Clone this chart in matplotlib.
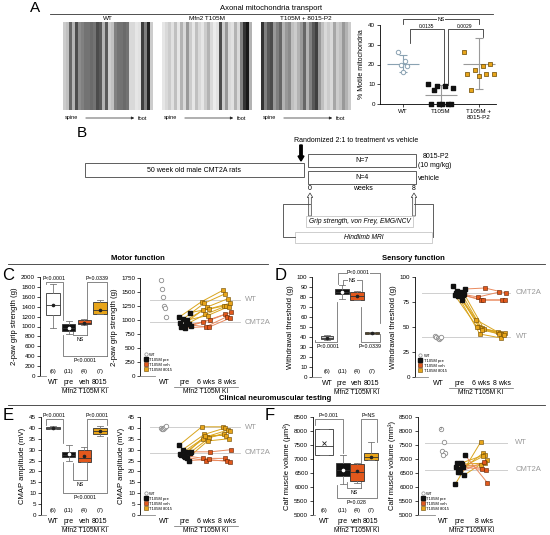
import matplotlib
matplotlib.use("Agg")
import matplotlib.pyplot as plt
import matplotlib.patches as mpatches
from matplotlib.lines import Line2D
import numpy as np

plt.rcParams['font.family'] = ['Liberation Sans', 'DejaVu Sans']
plt.rcParams['axes.linewidth'] = 0.6

W, H = 550, 535
BLACK = '#111111'
VEH = '#e2581c'
DRUG = '#e8a51a'
VEH_LINE = '#ea8a5e'
DRUG_LINE = '#d9a51e'
GREY = '#666666'

# ---------------- A: kymograph stripe intensities (0 black .. 1 white)
kymo_wt = [0.8, 0.75, 0.4, 0.7, 0.3, 0.55, 0.5, 0.45, 0.45, 0.42, 0.45, 0.3, 0.35, 0.7, 0.35,
           0.8, 0.75, 0.5, 0.45, 0.45, 0.42, 0.45, 0.85, 0.85, 0.9, 0.88, 0.25, 0.5, 0.15, 0.8]
kymo_mfn2 = [0.9, 0.85, 0.8, 0.88, 0.75, 0.9, 0.7, 0.85, 0.6, 0.8, 0.9, 0.75, 0.85, 0.9, 0.8,
             0.7, 0.85, 0.92, 0.88, 0.3, 0.8, 0.6, 0.85, 0.88, 0.7, 0.85, 0.5, 0.2, 0.1, 0.7]
kymo_drug = [0.2, 0.5, 0.35, 0.3, 0.6, 0.5, 0.4, 0.7, 0.6, 0.55, 0.75, 0.8, 0.7, 0.6, 0.4,
             0.7, 0.5, 0.35, 0.25, 0.6, 0.75, 0.85, 0.8, 0.85, 0.65, 0.8, 0.75, 0.6, 0.7, 0.8]
kymo_titles = ['WT', 'Mfn2 T105M', 'T105M + 8015-P2']

# A: % motile mitochondria
motile_groups = ['WT', 'T105M', 'T105M +\n8015-P2']
motile_wt = [26.5, 22, 20, 19, 16]
motile_t105m = [10, 9, 9, 8, 7, 0, 0, 0, 0, 0]
motile_drug = [26.5, 20.5, 19, 17, 15, 15, 15, 14, 7]
motile_mean = [20.5, 4.7, 20.5]
motile_err = [4.4, 5.0, 12.7]

# ---------------- box plots (WT, pre, veh, 8015)
box_labels = ['WT', 'pre', 'veh', '8015']
box_counts = ['(6)', '(11)', '(4)', '(7)']

grip_lo = [970, 840, 1040, 1250]
grip_q1 = [1230, 900, 1045, 1250]
grip_med = [1440, 960, 1080, 1340]
grip_q3 = [1670, 1050, 1130, 1500]
grip_hi = [1860, 1120, 1145, 1530]
grip_mean = [1440, 960, 1080, 1340]

vf_lo = [37, 78, 77, 43]
vf_q1 = [38, 83, 77.5, 43.5]
vf_med = [39.5, 85, 81, 44]
vf_q3 = [41, 88, 85, 45]
vf_hi = [42, 92, 86, 45.5]
vf_mean = [39.5, 85, 81, 44]

cmap_lo = [39.3, 25, 24.5, 36.5]
cmap_q1 = [39.5, 26.5, 24.5, 37]
cmap_med = [40, 27.5, 26, 38.5]
cmap_q3 = [40.5, 29, 30, 40]
cmap_hi = [40.8, 32, 31, 41]
cmap_mean = [40, 28, 27, 38.8]

mri_lo = [7150, 6100, 6150, 6950]
mri_q1 = [7150, 6380, 6200, 6950]
mri_med = [7450, 6600, 6550, 7080]
mri_q3 = [8080, 6850, 6820, 7200]
mri_hi = [8080, 7150, 6860, 7600]
mri_mean = [7560, 6620, 6560, 7080]

# ---------------- time course panels
tc_labels = ['WT', 'pre', '6 wks', '8 wks']

grip_wt = [1720, 1560, 1410, 1250, 1210, 1060]
grip_drug_pre = [1050, 1010, 960, 1130, 940, 900, 1000]
grip_drug_6 = [1330, 1300, 1230, 1200, 1170, 1100, 1080]
grip_drug_8 = [1530, 1470, 1380, 1300, 1250, 1250, 1240]
grip_veh_pre = [900, 880, 860, 920]
grip_veh_6 = [1000, 970, 880, 870]
grip_veh_8 = [1140, 1100, 1060, 1030]
grip_ref = [1360, 960]

vf_wt = [41, 40, 39, 38.5, 39.5, 40]
vf_drug_pre = [91, 86, 85, 83, 82, 81, 77]
vf_drug_6 = [57, 50, 49, 48, 50, 43, 47]
vf_drug_8 = [45, 44, 43, 44, 43, 39, 42]
vf_veh_pre = [88, 84, 83, 82]
vf_veh_6 = [89, 80, 77, 77]
vf_veh_8 = [84, 85, 77, 77]
vf_ref = [40, 84.5]

cmap_wt = [40, 39.5, 39.3, 40, 40.5, 41]
cmap_drug_pre = [32, 30, 29, 28.5, 28, 27, 26]
cmap_drug_6 = [40.5, 37, 36, 35.5, 35, 36.5, 34]
cmap_drug_8 = [40.5, 40, 39, 38.5, 37, 36.5, 35]
cmap_veh_pre = [29, 27.5, 26.5, 25]
cmap_veh_6 = [29, 26, 25, 25.5]
cmap_veh_8 = [30, 26, 25, 24.5]
cmap_ref = [40.2, 28.5]

mri_wt = [8080, 7620, 7300, 7200, 7150]
mri_drug_pre = [6100, 6520, 6850, 6420, 6700, 6650, 6820]
mri_drug_8 = [7600, 7200, 7150, 6950, 6800, 7100, 6850]
mri_veh_pre = [7150, 6870, 6550, 6720]
mri_veh_8 = [6150, 6650, 6880, 6600]
mri_ref = [7580, 6620]

fig = plt.figure(figsize=(5.5, 5.35), dpi=100)
fig.patch.set_facecolor('white')


def add_ax(x0, y0, x1, y1):
    # pixel box, origin top-left
    a = fig.add_axes([x0 / W, 1 - y1 / H, (x1 - x0) / W, (y1 - y0) / H])
    a.set_facecolor('none')
    return a


def spread(n, w):
    if n == 1:
        return np.zeros(1)
    offs = np.linspace(-w, w, n)
    step = 3 if n % 3 else 7
    return offs[(np.arange(n) * step) % n]


def bracket(ax, x1, x2, y, y1, y2, color=GREY, lw=0.55):
    ax.plot([x1, x1, x2, x2], [y1, y, y, y2], color=color, lw=lw, clip_on=False, zorder=1)


def note(ax, x, y, s, fs=3.8, bg=False):
    kw = dict(ha='center', va='center', fontsize=fs, clip_on=False, zorder=5)
    if bg:
        kw['bbox'] = dict(facecolor='white', edgecolor='none', pad=0.3)
    ax.text(x, y, s, **kw)


def group_label(ax, x1, x2, ax_h):
    tr = ax.get_xaxis_transform()
    ax.plot([x1, x2], [-11 / ax_h] * 2, color=GREY, lw=0.5, transform=tr, clip_on=False)
    ax.text((x1 + x2) / 2, -15.5 / ax_h, 'Mfn2 T105M KI', transform=tr, ha='center', va='center',
            fontsize=4.8)


def box_panel(ax, lo, q1, med, q3, hi, mean, pos, widths, xlim, ylim, yticks, ylabel, ax_h):
    stats = [dict(whislo=lo[i], q1=q1[i], med=med[i], q3=q3[i], whishi=hi[i], mean=mean[i])
             for i in range(len(lo))]
    bp = ax.bxp(stats, positions=pos, widths=widths, patch_artist=True, showmeans=True,
                showfliers=False, capwidths=[w * 0.45 for w in widths],
                boxprops=dict(linewidth=0.6, edgecolor='#333333'),
                medianprops=dict(color='#333333', linewidth=0.6),
                whiskerprops=dict(color='#777777', linewidth=0.6),
                capprops=dict(color='#777777', linewidth=0.6),
                meanprops=dict(marker='o', markersize=1.6, markerfacecolor='#222222',
                               markeredgecolor='#222222'))
    for patch, fc in zip(bp['boxes'], ['white', BLACK, VEH, DRUG]):
        patch.set_facecolor(fc)
    bp['means'][1].set_markerfacecolor('white')
    bp['means'][1].set_markeredgecolor('white')
    ax.set_xlim(*xlim)
    ax.set_ylim(*ylim)
    ax.set_yticks(yticks)
    ax.set_xticks(pos, box_labels, fontsize=5)
    ax.tick_params(axis='x', length=0, pad=2.5)
    ax.tick_params(axis='y', labelsize=4.5, length=2, width=0.5, pad=1.5)
    for s in ['top', 'right']:
        ax.spines[s].set_visible(False)
    ax.spines['bottom'].set_bounds(xlim[0], pos[0] - widths[0] / 2)
    ax.spines['bottom'].set_color('#888888')
    ax.set_ylabel(ylabel, fontsize=5.5, labelpad=2)
    for p, c in zip(pos, box_counts):
        ax.text(p, 0.05, c, transform=ax.get_xaxis_transform(), ha='center', va='center',
                fontsize=4)
    group_label(ax, pos[1] - 0.5, pos[3] + 0.5, ax_h)
    return bp


def trend_panel(ax, wt, drug, veh, xs, ref, xlim, ylim, yticks, ylabel, ax_h,
                ref_span=(0.1, 0.97), ref_x=1.02):
    # drug / veh: lists of series [pre, later1, later2 ...]
    ax.set_xlim(*xlim)
    ax.set_ylim(*ylim)
    for r, lab in zip(ref, ['WT', 'CMT2A']):
        ax.axhline(r, xmin=ref_span[0], xmax=ref_span[1], color='#cfcfcf', lw=0.7, zorder=0)
        ax.text(ref_x, r, lab, transform=ax.get_yaxis_transform(), fontsize=5.5,
                color='#9a9a9a', va='center', ha='left', clip_on=False)
    n_d, n_v = len(drug[0]), len(veh[0])
    n = n_d + n_v
    offs = [spread(n, 0.28)] + [spread(n, 0.2) for _ in drug[1:]]
    for i in range(n_d):
        px = [xs[k + 1] + offs[k][i] for k in range(len(drug))]
        py = [series[i] for series in drug]
        ax.plot(px, py, color=DRUG_LINE, lw=0.7, zorder=2)
        ax.plot(px[1:], py[1:], ls='', marker='s', ms=3.2, mfc=DRUG, mec='#6a4800',
                mew=0.4, zorder=3)
    for j in range(n_v):
        i = n_d + j
        px = [xs[k + 1] + offs[k][i] for k in range(len(veh))]
        py = [series[j] for series in veh]
        ax.plot(px, py, color=VEH_LINE, lw=0.7, zorder=2)
        ax.plot(px[1:], py[1:], ls='', marker='s', ms=3.2, mfc=VEH, mec='#5a2000',
                mew=0.4, zorder=3)
    pre_all = list(drug[0]) + list(veh[0])
    ax.plot(xs[1] + offs[0], pre_all, ls='', marker='s', ms=3.2, mfc=BLACK, mec=BLACK,
            zorder=4)
    ax.plot(xs[0] + spread(len(wt), 0.12), wt, ls='', marker='o', ms=3.2, mfc='white',
            mec='#8c8c8c', mew=0.6, zorder=4)
    ax.set_yticks(yticks)
    ax.set_xticks(xs, tc_labels[:len(xs)] if len(xs) == 4 else ['WT', 'pre', '8 wks'],
                  fontsize=5)
    ax.tick_params(axis='x', length=0, pad=2.5)
    ax.tick_params(axis='y', labelsize=4.5, length=2, width=0.5, pad=1.5)
    for s in ['top', 'right']:
        ax.spines[s].set_visible(False)
    ax.spines['bottom'].set_bounds(xlim[0], xs[0] - 0.45)
    ax.spines['bottom'].set_color('#888888')
    ax.set_ylabel(ylabel, fontsize=5.5, labelpad=2)
    handles = [Line2D([], [], ls='', marker='o', ms=2.4, mfc='white', mec='#8c8c8c', mew=0.5),
               Line2D([], [], ls='', marker='s', ms=2.4, mfc=BLACK, mec=BLACK),
               Line2D([], [], ls='', marker='s', ms=2.4, mfc=VEH, mec='#5a2000', mew=0.4),
               Line2D([], [], ls='', marker='s', ms=2.4, mfc=DRUG, mec='#6a4800', mew=0.4)]
    ax.legend(handles, ['WT', 'T105M pre', 'T105M veh', 'T105M 8015'], loc='lower left',
              bbox_to_anchor=(0.02, 0.02), fontsize=3, frameon=False, handlelength=0.7,
              handletextpad=0.4, labelspacing=0.25, borderaxespad=0.1)
    group_label(ax, xs[1] - 0.5, xs[-1] + 0.5, ax_h)


# ================= A: kymographs
for k, (kym, title) in enumerate(zip([kymo_wt, kymo_mfn2, kymo_drug], kymo_titles)):
    x0 = 63 + 99 * k
    ak = add_ax(x0, 22, x0 + 90, 110)
    ak.imshow(np.array(kym)[None, :], cmap='gray', vmin=0, vmax=1, aspect='auto',
              interpolation='nearest')
    ak.set_xticks([])
    ak.set_yticks([])
    for s in ak.spines.values():
        s.set_visible(False)
    ak.set_title(title, fontsize=4.6, pad=1.5)

# A: motile mitochondria scatter
axa = add_ax(380, 25, 496, 104)
axa.set_xlim(-0.6, 2.45)
axa.set_ylim(0, 40)
axa.scatter(0 + spread(len(motile_wt), 0.12), motile_wt, s=10, facecolor='white',
            edgecolor='#8aa2b2', linewidth=0.7, zorder=3, clip_on=False)
axa.scatter(1 + spread(len(motile_t105m), 0.33), motile_t105m, s=9, marker='s', color=BLACK,
            zorder=3, clip_on=False)
axa.scatter(2 + spread(len(motile_drug), 0.4), motile_drug, s=9, marker='s', facecolor=DRUG,
            edgecolor='#6a4800', linewidth=0.5, zorder=3, clip_on=False)
for i, (m, e) in enumerate(zip(motile_mean, motile_err)):
    col = '#8aa2b2' if i == 0 else '#9a9a9a'
    axa.hlines(m, i - 0.42, i + 0.42, color=col, lw=0.8, zorder=2)
    axa.errorbar(i, m, yerr=e, fmt='none', ecolor=col, elinewidth=0.8, capsize=3,
                 capthick=0.8, zorder=2, clip_on=False)
axa.set_yticks([0, 10, 20, 30, 40])
axa.set_xticks([0, 1, 2], motile_groups, fontsize=4.5)
axa.tick_params(labelsize=4.5, length=2, width=0.5, pad=1.5)
for s in ['top', 'right']:
    axa.spines[s].set_visible(False)
axa.set_ylabel('% Motile mitochondria', fontsize=5, labelpad=2)
bracket(axa, 0, 2, 42.9, 40.5, 40.5, color='#222222')
note(axa, 1, 42.9, 'NS', fs=3.8, bg=True)
bracket(axa, 0.18, 1.08, 37.8, 31, 9.8, color='#222222')
note(axa, 0.62, 39.4, '0.0135', fs=3.6)
bracket(axa, 1.18, 2.12, 37.8, 9.8, 34, color='#222222')
note(axa, 1.62, 39.4, '0.0029', fs=3.6)

# ================= C: grip strength
c_pos = [0, 1, 2, 3]
c_w = [0.9, 0.85, 0.85, 0.9]
axc = add_ax(40, 277, 112, 376)
box_panel(axc, grip_lo, grip_q1, grip_med, grip_q3, grip_hi, grip_mean, c_pos, c_w,
          (-0.83, 3.78), (0, 2000), range(0, 2001, 200), '2-paw grip strength (g)', 99)
bracket(axc, -0.45, 0.62, 1900, 1860, 1130)
note(axc, 0.08, 1975, 'P<0.0001')
bracket(axc, 2.2, 3.46, 1900, 830, 400)
note(axc, 2.83, 1975, 'P=0.0339')
bracket(axc, 1.3, 2.2, 830, 1030, 830)
note(axc, 1.75, 740, 'NS')
bracket(axc, 0.62, 3.46, 400, 830, 400)
note(axc, 2.05, 320, 'P<0.0001')

axc2 = add_ax(140, 278, 243, 376)
trend_panel(axc2, grip_wt, [grip_drug_pre, grip_drug_6, grip_drug_8],
            [grip_veh_pre, grip_veh_6, grip_veh_8], [0, 1, 2, 3], grip_ref,
            (-1.14, 3.76), (0, 1750), range(0, 1751, 250), '2-paw grip strength (g)', 98)

# ================= D: von Frey
axd = add_ax(312, 277, 385, 377)
box_panel(axd, vf_lo, vf_q1, vf_med, vf_q3, vf_hi, vf_mean, [0, 1, 2, 3],
          [0.8, 0.95, 0.95, 0.95], (-1.0, 3.87), (0, 100), range(0, 101, 10),
          'Withdrawal threshold (g)', 100)
axd.patches[0].set_facecolor('#d0d0d0')
bracket(axd, 0.73, 3.53, 104, 93, 54)
note(axd, 2.1, 104, 'P<0.0001', bg=True)
bracket(axd, 1.07, 2.33, 97, 92.5, 86.5)
note(axd, 1.7, 97, 'NS', bg=True)
bracket(axd, -0.8, 0.67, 35, 37, 75)
note(axd, 0.05, 31, 'P<0.0001')
bracket(axd, 2.27, 3.53, 35, 70, 43)
note(axd, 2.87, 31, 'P=0.0339')

axd2 = add_ax(415, 277, 512, 377)
trend_panel(axd2, vf_wt, [vf_drug_pre, vf_drug_6, vf_drug_8], [vf_veh_pre, vf_veh_6, vf_veh_8],
            [0, 1, 2, 3], vf_ref, (-1.08, 3.47), (0, 100), [0, 25, 50, 75, 100],
            'Withdrawal threshold (g)', 100, ref_span=(0.07, 0.98), ref_x=1.04)

# ================= E: CMAP
axe = add_ax(41, 417, 112, 515)
box_panel(axe, cmap_lo, cmap_q1, cmap_med, cmap_q3, cmap_hi, cmap_mean, c_pos, c_w,
          (-0.77, 3.78), (0, 45), range(0, 46, 5), 'CMAP amplitude (mV)', 98)
axe.patches[0].set_facecolor('#d8d8d8')
bracket(axe, -0.45, 0.62, 44, 41.3, 33)
note(axe, 0.08, 45.8, 'P<0.0001')
bracket(axe, 2.2, 3.46, 44, 16, 41.5)
note(axe, 2.83, 45.8, 'P<0.0001')
bracket(axe, 1.3, 2.2, 16, 24, 16)
note(axe, 1.75, 14.2, 'NS')
bracket(axe, 0.62, 3.46, 10, 24.5, 36)
note(axe, 2.05, 8, 'P<0.0001')

axe2 = add_ax(140, 417, 243, 515)
trend_panel(axe2, cmap_wt, [cmap_drug_pre, cmap_drug_6, cmap_drug_8],
            [cmap_veh_pre, cmap_veh_6, cmap_veh_8], [0, 1, 2, 3], cmap_ref,
            (-1.14, 3.76), (0, 45), range(0, 46, 5), 'CMAP amplitude (mV)', 98)

# ================= F: MRI calf volume
f_pos = [0, 1.35, 2.35, 3.35]
axf = add_ax(313, 417, 385, 515)
bpf = box_panel(axf, mri_lo, mri_q1, mri_med, mri_q3, mri_hi, mri_mean, f_pos,
                [1.25, 0.95, 0.95, 0.95], (-0.79, 4.36), (5000, 8500), range(5000, 8501, 500),
                'Calf muscle volume (μm³)', 98)
bpf['means'][0].set_marker('x')
bpf['means'][0].set_markersize(2.2)
bpf['means'][0].set_markeredgewidth(0.6)
bracket(axf, -0.64, 1.35, 8420, 8200, 7210)
note(axf, 0.35, 8570, 'P=0.001')
bracket(axf, 2.64, 3.79, 8420, 5960, 7620)
note(axf, 3.2, 8570, 'P=NS')
bracket(axf, 1.64, 2.64, 5960, 6170, 5960)
note(axf, 2.14, 5820, 'NS')
bracket(axf, 0.93, 3.79, 5610, 6080, 6940)
note(axf, 2.3, 5450, 'P=0.028')

axf2 = add_ax(418, 417, 508, 515)
trend_panel(axf2, mri_wt, [mri_drug_pre, mri_drug_8], [mri_veh_pre, mri_veh_8],
            [0, 1, 2.41], mri_ref, (-1.47, 3.82), (5000, 8500), range(5000, 8501, 500),
            'Calf muscle volume (mm³)', 98, ref_span=(0.08, 1.0), ref_x=1.08)
axf2.text(0 + spread(len(mri_wt), 0.12)[0], mri_wt[0], '2', fontsize=3, ha='center',
          va='center', color='#555555', zorder=6)

# ================= overlay: titles, letters, schematic
ov = fig.add_axes([0, 0, 1, 1])
ov.set_xlim(0, W)
ov.set_ylim(H, 0)
ov.axis('off')

ov.text(35, 8, 'A', fontsize=11, va='center', ha='center')
ov.text(271, 9, 'Axonal mitochondria transport', fontsize=5.5, ha='center', va='center')
ov.plot([50, 493], [13.5, 13.5], color='#333333', lw=0.6)
for k in range(3):
    dx = 99 * k
    ov.text(65 + dx, 118, 'spine', fontsize=4, va='center', ha='left')
    ov.annotate('', xy=(137 + dx, 118), xytext=(83 + dx, 118),
                arrowprops=dict(arrowstyle='-|>', lw=0.5, color='#222222', mutation_scale=4))
    ov.text(138 + dx, 118, 'foot', fontsize=4, va='center', ha='left')

# B schematic
ov.text(82, 133, 'B', fontsize=11, va='center', ha='center')
ov.text(356, 140, 'Randomized 2:1 to treatment vs vehicle', fontsize=5, ha='center', va='center')
ov.add_patch(mpatches.FancyArrow(301, 145, 0, 16, width=2.4, head_width=6, head_length=5,
                                 length_includes_head=True, color='black'))
ov.add_patch(mpatches.Rectangle((85, 163), 219, 14, fill=False, lw=0.6, edgecolor='#444444'))
ov.text(194, 170, '50 week old male CMT2A rats', fontsize=5, ha='center', va='center')
ov.add_patch(mpatches.Rectangle((308, 154), 108, 13, fill=False, lw=0.6, edgecolor='#444444'))
ov.text(362, 160.5, 'N=7', fontsize=5, ha='center', va='center')
ov.add_patch(mpatches.Rectangle((308, 171), 108, 13, fill=False, lw=0.6, edgecolor='#444444'))
ov.text(362, 177.5, 'N=4', fontsize=5, ha='center', va='center')
ov.text(436, 157, '8015-P2', fontsize=5, ha='center', va='center')
ov.text(435, 165.5, '(10 mg/kg)', fontsize=5, ha='center', va='center')
ov.text(418, 178, 'vehicle', fontsize=5, ha='left', va='center')
ov.text(310, 189, '0', fontsize=5, ha='center', va='center')
ov.text(363, 189, 'weeks', fontsize=5, ha='center', va='center')
ov.text(414, 189, '8', fontsize=5, ha='center', va='center')
for xa in (310, 414):
    ov.add_patch(mpatches.FancyArrow(xa, 216, 0, -23, width=2.6, head_width=5.5, head_length=4.5,
                                     length_includes_head=True, facecolor='white',
                                     edgecolor='#333333', lw=0.5))
ov.plot([310, 283, 283, 295], [204, 204, 237, 237], color='#444444', lw=0.6)
ov.plot([414, 433, 433], [204, 204, 237], color='#444444', lw=0.6)
ov.add_patch(mpatches.Rectangle((306, 216), 107, 11, fill=False, lw=0.5, edgecolor='#bbbbbb'))
ov.text(359.5, 221.5, 'Grip strength, von Frey, EMG/NCV', fontsize=4.8, style='italic',
        ha='center', va='center')
ov.add_patch(mpatches.Rectangle((295, 232), 137, 11, fill=False, lw=0.5, edgecolor='#bbbbbb'))
ov.text(363.5, 237.5, 'Hindlimb MRI', fontsize=4.8, style='italic', ha='center', va='center')

# section titles and letters
ov.text(138, 259, 'Motor function', fontsize=5.5, fontweight='bold', ha='center', va='center')
ov.plot([8, 268], [264, 264], color='#333333', lw=0.6)
ov.text(413, 259, 'Sensory function', fontsize=5.5, fontweight='bold', ha='center', va='center')
ov.plot([279, 545], [264, 264], color='#333333', lw=0.6)
ov.text(275, 399, 'Clinical neuromuscular testing', fontsize=5.5, fontweight='bold',
        ha='center', va='center')
ov.plot([8, 545], [405, 405], color='#333333', lw=0.6)
ov.text(8, 275, 'C', fontsize=12, ha='center', va='center')
ov.text(281, 275, 'D', fontsize=12, ha='center', va='center')
ov.text(8, 415, 'E', fontsize=12, ha='center', va='center')
ov.text(270, 415, 'F', fontsize=12, ha='center', va='center')

fig.savefig('out.png', dpi=100, facecolor='white')
